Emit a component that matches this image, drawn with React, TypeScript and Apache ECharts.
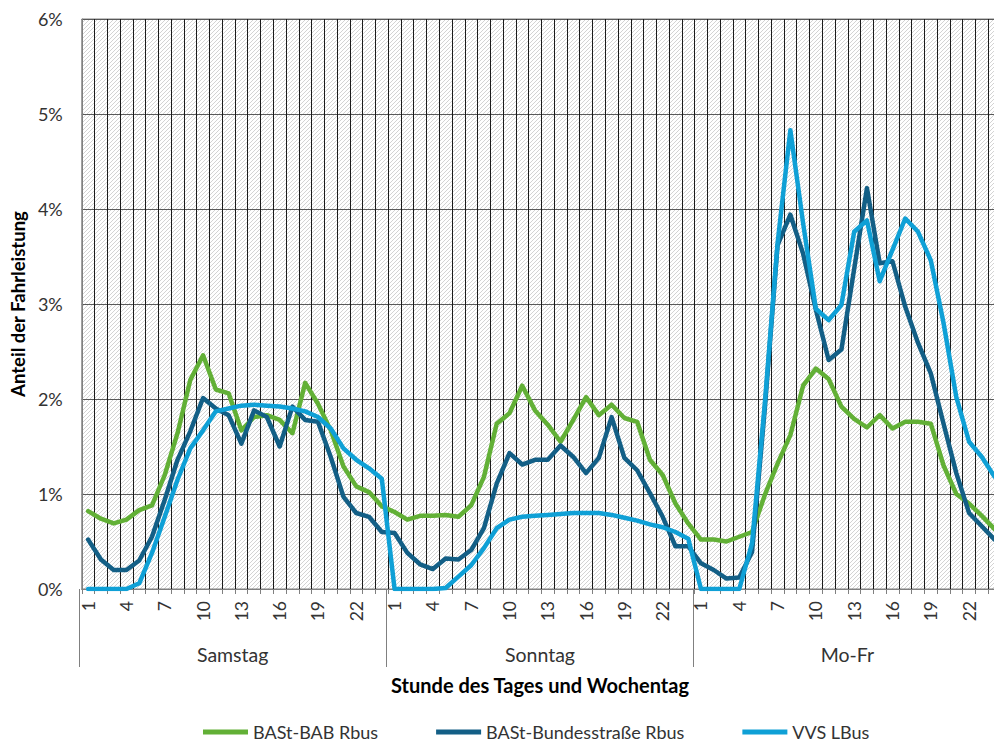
import { useEffect, useRef } from 'react';
import * as echarts from 'echarts';

const days = ['Samstag', 'Sonntag', 'Mo-Fr'];
const hours = ['1', '2', '3', '4', '5', '6', '7', '8', '9', '10', '11', '12', '13', '14', '15', '16', '17', '18', '19', '20', '21', '22', '23', '24'];
const yTicks = [0, 1, 2, 3, 4, 5, 6];

const seriesNames = ['BASt-BAB Rbus', 'BASt-Bundesstraße Rbus', 'VVS LBus'];

// BASt-BAB Rbus (green)
const babSa = [0.82, 0.74, 0.69, 0.73, 0.83, 0.88, 1.2, 1.64, 2.2, 2.46, 2.1, 2.06, 1.67, 1.81, 1.83, 1.78, 1.64, 2.17, 1.95, 1.67, 1.29, 1.08, 1.02, 0.87];
const babSo = [0.81, 0.73, 0.77, 0.77, 0.78, 0.76, 0.88, 1.18, 1.74, 1.85, 2.14, 1.88, 1.73, 1.55, 1.78, 2.02, 1.83, 1.94, 1.8, 1.76, 1.36, 1.2, 0.9, 0.69];
const babMoFr = [0.52, 0.52, 0.5, 0.55, 0.6, 0.99, 1.32, 1.62, 2.14, 2.32, 2.21, 1.92, 1.79, 1.7, 1.83, 1.69, 1.76, 1.76, 1.74, 1.3, 1.0, 0.9, 0.77, 0.63];

// BASt-Bundesstraße Rbus (dark blue)
const bsSa = [0.52, 0.31, 0.2, 0.2, 0.3, 0.55, 0.94, 1.36, 1.66, 2.01, 1.9, 1.83, 1.53, 1.88, 1.81, 1.5, 1.92, 1.78, 1.76, 1.39, 0.97, 0.8, 0.76, 0.6];
const bsSo = [0.59, 0.38, 0.26, 0.21, 0.32, 0.31, 0.41, 0.64, 1.11, 1.43, 1.31, 1.36, 1.36, 1.51, 1.39, 1.22, 1.38, 1.81, 1.38, 1.25, 1.01, 0.76, 0.45, 0.45];
const bsMoFr = [0.27, 0.2, 0.11, 0.12, 0.39, 1.9, 3.62, 3.94, 3.53, 2.94, 2.41, 2.52, 3.37, 4.22, 3.43, 3.45, 2.97, 2.59, 2.27, 1.74, 1.22, 0.8, 0.66, 0.52];

// VVS LBus (light blue)
const vvsSa = [0, 0, 0, 0, 0.06, 0.38, 0.76, 1.15, 1.48, 1.67, 1.87, 1.9, 1.93, 1.94, 1.93, 1.92, 1.9, 1.87, 1.81, 1.69, 1.48, 1.36, 1.27, 1.16];
const vvsSo = [0, 0, 0, 0, 0.01, 0.13, 0.25, 0.43, 0.64, 0.73, 0.76, 0.77, 0.78, 0.79, 0.8, 0.8, 0.8, 0.78, 0.75, 0.72, 0.68, 0.65, 0.6, 0.53];
const vvsMoFr = [0, 0, 0, 0, 0.48, 1.95, 3.64, 4.83, 3.85, 2.95, 2.83, 2.99, 3.76, 3.88, 3.24, 3.57, 3.9, 3.76, 3.46, 2.8, 2.02, 1.55, 1.39, 1.18];

const colors = ['#62B036', '#135F86', '#0FA0D6'];

const W = 1010;
const H = 742;
const FONT = 'Lato';

function makeHatch(): HTMLCanvasElement {
  const c = document.createElement('canvas');
  c.width = 8;
  c.height = 8;
  const ctx = c.getContext('2d')!;
  ctx.fillStyle = '#ffffff';
  ctx.fillRect(0, 0, 8, 8);
  for (let y = 0; y < 8; y++) {
    for (let x = 0; x < 8; x++) {
      if ((x + y) % 4 === 0) {
        ctx.fillStyle = '#d3d3d3';
        ctx.fillRect(x, y, 1, 1);
      }
    }
  }
  return c;
}

export default function App() {
  const ref = useRef<HTMLDivElement>(null);
  useEffect(() => {
    if (!ref.current) return;
    const chart = echarts.init(ref.current, undefined, { renderer: 'svg' });
    const categories = days.flatMap(() => hours);
    const data = [
      [...babSa, ...babSo, ...babMoFr],
      [...bsSa, ...bsSo, ...bsMoFr],
      [...vvsSa, ...vvsSo, ...vvsMoFr],
    ];
    const gridBox = { left: 79, top: 19, right: W - 1001, bottom: H - 589 };
    const option: any = {
      animation: false,
      textStyle: { fontFamily: FONT },
      grid: [
        {
          ...gridBox,
          show: true,
          backgroundColor: { image: makeHatch(), repeat: 'repeat', imageWidth: 8, imageHeight: 8 },
          borderColor: '#808080',
          borderWidth: 1,
        },
        { ...gridBox, show: false },
      ],
      xAxis: [
        {
          type: 'category',
          gridIndex: 0,
          data: categories,
          boundaryGap: true,
          position: 'bottom',
          axisLine: { show: true, lineStyle: { color: '#808080', width: 1 } },
          axisTick: { show: true, interval: 0, length: 5, lineStyle: { color: '#808080' } },
          axisLabel: {
            interval: (i: number) => i % 3 === 0,
            rotate: 90,
            margin: 12,
            fontSize: 17.5,
            color: '#333',
            fontFamily: FONT,
          },
          splitLine: { show: true, interval: 0, lineStyle: { color: '#1a1a1a', width: 1 } },
        },
        {
          type: 'category',
          gridIndex: 1,
          data: days,
          position: 'bottom',
          axisLine: { show: false },
          axisTick: { show: true, interval: 0, length: 78, lineStyle: { color: '#808080' } },
          axisLabel: { margin: 55, fontSize: 19.5, color: '#333', fontFamily: FONT },
          splitLine: { show: false },
          name: 'Stunde des Tages und Wochentag',
          nameLocation: 'middle',
          nameGap: 86,
          nameTextStyle: { fontWeight: 'bold', fontSize: 20, color: '#000', fontFamily: FONT },
        },
      ],
      yAxis: [
        {
          type: 'value',
          gridIndex: 0,
          min: yTicks[0],
          max: yTicks[yTicks.length - 1],
          interval: 1,
          axisLine: { show: true, lineStyle: { color: '#808080' } },
          axisTick: { show: false },
          axisLabel: { formatter: '{value}%', fontSize: 18, margin: 19, color: '#333', fontFamily: FONT },
          splitLine: { show: true, lineStyle: { color: '#595959', width: 1 } },
          name: 'Anteil der Fahrleistung',
          nameLocation: 'middle',
          nameGap: 53,
          nameTextStyle: { fontWeight: 'bold', fontSize: 18.5, color: '#000', fontFamily: FONT },
        },
        { type: 'value', gridIndex: 1, show: false, min: 0, max: 6 },
      ],
      legend: {
        left: 198,
        top: 717,
        icon: 'rect',
        itemWidth: 45,
        itemHeight: 5,
        itemGap: 58,
        textStyle: { fontSize: 18, lineHeight: 20, color: '#333', fontFamily: FONT },
        data: seriesNames,
      },
      series: seriesNames.map((name, k) => ({
        name,
        type: 'line',
        xAxisIndex: 0,
        yAxisIndex: 0,
        data: data[k],
        symbol: 'none',
        color: colors[k],
        lineStyle: { width: 4.5, color: colors[k], join: 'round', cap: 'round' },
        z: 3 + k,
      })),
    };
    chart.setOption(option);
    return () => chart.dispose();
  }, []);
  return (
    <div
      ref={ref}
      style={{ position: 'fixed', left: 0, top: 0, width: W, height: H, background: '#fff' }}
    />
  );
}
